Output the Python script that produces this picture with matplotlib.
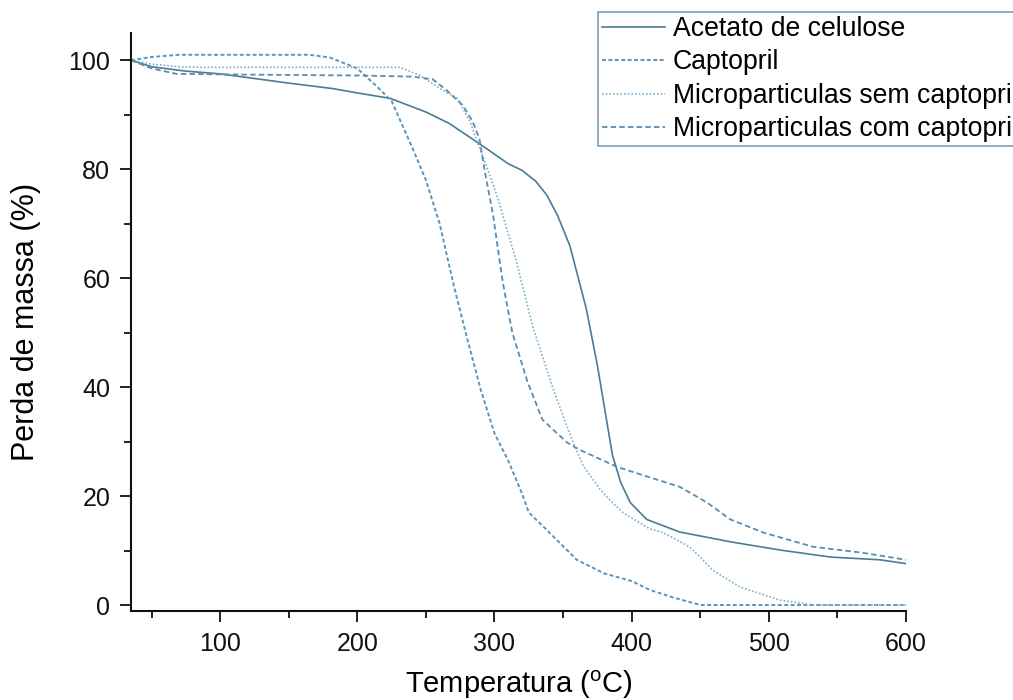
import matplotlib
matplotlib.use('Agg')
import matplotlib.pyplot as plt
from matplotlib.ticker import MultipleLocator

plt.rcParams['font.family'] = ['Liberation Sans', 'DejaVu Sans']
plt.rcParams['mathtext.fontset'] = 'custom'
plt.rcParams['mathtext.rm'] = 'Liberation Sans'

# Acetato de celulose
t_ac = [35, 50, 75, 100, 150, 182, 200, 224, 250, 267, 280, 294, 310, 320, 330, 338, 346,
        355, 367, 375, 386, 392, 399, 411, 435, 472, 508, 545, 581, 600]
m_ac = [100, 98.8, 98, 97.5, 95.8, 94.8, 94, 93, 90.5, 88.4, 86.2, 83.8, 81, 79.8, 77.8,
        75.3, 71.5, 65.9, 54.3, 44, 27.5, 22.5, 18.8, 15.7, 13.4, 11.6, 10.1, 8.8, 8.3, 7.6]

# Captopril
t_cap = [35, 50, 70, 100, 130, 165, 180, 200, 215, 225, 240, 250, 260, 270, 280, 290, 300,
         310, 320, 325, 340, 360, 380, 400, 413, 430, 450, 500, 550, 600]
m_cap = [100, 100.6, 101, 101, 101, 101, 100.5, 98.5, 95, 92.5, 84, 78, 70, 59, 49, 39.5,
         31.5, 26.5, 20.5, 17, 13.3, 8.3, 5.8, 4.4, 2.8, 1.4, 0, 0, 0, 0]

# Microparticulas sem captopril
t_sem = [35, 50, 70, 90, 150, 231, 246, 260, 273, 282, 289, 295, 302, 316, 328, 343, 357,
         365, 377, 384, 394, 413, 423, 442, 450, 459, 479, 508, 532, 600]
m_sem = [100, 99.3, 98.8, 98.7, 98.7, 98.7, 97.2, 94.8, 93, 88.8, 84, 80, 75, 63, 51, 39.5,
         30, 25.4, 21.2, 19.3, 16.9, 14, 13.3, 10.7, 8.8, 6.4, 3.3, 0.9, 0, 0]

# Microparticulas com captopril
t_com = [35, 50, 68, 100, 150, 200, 240, 255, 265, 277, 284, 289, 293, 299, 306, 313, 324,
         335, 353, 362, 389, 411, 435, 455, 472, 496, 532, 568, 600]
m_com = [100, 98.5, 97.5, 97.4, 97.3, 97.2, 97, 96.5, 94.5, 91.7, 88.8, 85.6, 79.5, 71.5,
         59.3, 50, 41, 34, 29.8, 28.5, 25.4, 23.6, 21.7, 18.8, 15.7, 13.3, 10.7, 9.6, 8.3]

fig = plt.figure(figsize=(10.13, 7), dpi=100)
ax = fig.add_axes([131 / 1013, 89 / 700, 775 / 1013, 578 / 700])

ax.plot(t_ac, m_ac, '-', color='#4a7c98', lw=1.2, label='Acetato de celulose')
ax.plot(t_cap, m_cap, color='#5a95bb', lw=1.4, ls=(0, (2, 1.3)), label='Captopril')
ax.plot(t_sem, m_sem, color='#7ab0d0', lw=1.2, ls=(0, (1, 1.2)),
        label='Microparticulas sem captopril')
ax.plot(t_com, m_com, color='#5a8cae', lw=1.3, ls=(0, (3, 1.8)),
        label='Microparticulas com captopril')

ax.set_xlim(35, 600)
ax.set_ylim(-1.1, 105)
ax.xaxis.set_major_locator(MultipleLocator(100))
ax.xaxis.set_minor_locator(MultipleLocator(50))
ax.yaxis.set_major_locator(MultipleLocator(20))
ax.yaxis.set_minor_locator(MultipleLocator(10))
ax.tick_params(which='major', direction='out', length=8, width=1.3, labelsize=18,
               colors='#111111', pad=7)
ax.tick_params(which='minor', direction='out', length=5, width=1.3, colors='#111111')
for s in ['top', 'right']:
    ax.spines[s].set_visible(False)
for s in ['left', 'bottom']:
    ax.spines[s].set_linewidth(1.5)
    ax.spines[s].set_color('#111111')

ax.set_xlabel('Temperatura ($^{\\rm o}$C)', fontsize=21, labelpad=9)
ax.set_ylabel('Perda de massa (%)', fontsize=22, labelpad=20)

leg = ax.legend(loc='upper left', bbox_to_anchor=(598 / 1013, 1 - 12 / 700),
                bbox_transform=fig.transFigure, borderaxespad=0, fontsize=19.2,
                fancybox=False, framealpha=1, edgecolor='#7f9fb5', handlelength=2.35,
                handletextpad=0.3, labelspacing=0.28, borderpad=0.15)
leg.get_frame().set_linewidth(1.2)

fig.savefig('out.png', dpi=100)
